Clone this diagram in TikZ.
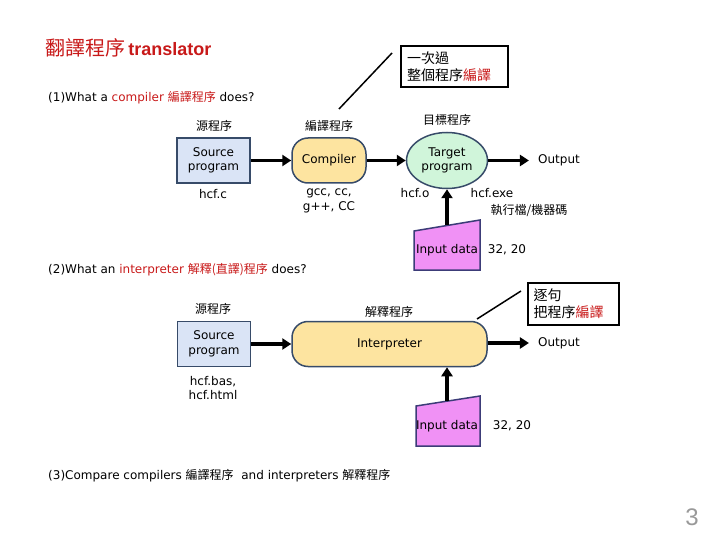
\documentclass[tikz,border=0pt]{standalone}
\usepackage{fontspec}
\setmainfont{DejaVu Sans}
\newfontfamily\cjk{Noto Sans CJK TC}
\newfontfamily\arialf{Liberation Sans}
\usetikzlibrary{arrows.meta,shapes.geometric}
\definecolor{tred}{RGB}{200,25,25}
\definecolor{bord}{RGB}{55,75,105}
\definecolor{srcblue}{RGB}{218,228,246}
\definecolor{compy}{RGB}{253,228,160}
\definecolor{tgtg}{RGB}{208,245,218}
\definecolor{inpink}{RGB}{240,145,245}
\definecolor{inbord}{RGB}{60,60,120}
\begin{document}
\begin{tikzpicture}[x=1pt,y=-1pt,
  txt/.style={font=\fontsize{12}{14.5}\selectfont, inner sep=0pt, align=center},
  cj/.style={font=\fontsize{12}{14}\selectfont\cjk, inner sep=0pt},
  srcbox/.style={draw=bord, line width=1.5pt, fill=srcblue, minimum width=73pt, minimum height=45pt, align=center, inner sep=0pt, font=\fontsize{12}{14.5}\selectfont},
  procbox/.style={draw=bord, line width=1.5pt, fill=compy, rounded corners=16pt, minimum height=45pt, inner sep=0pt, font=\fontsize{12}{14.5}\selectfont},
  outlbl/.style={font=\fontsize{12}{14.5}\selectfont, inner xsep=9pt, inner ysep=0pt},
  arr/.style={line width=3.5pt, -{Triangle[length=9pt,width=11pt]}},
  callout/.style={draw, line width=1.5pt, align=left, inner sep=0pt, font=\fontsize{14}{17}\selectfont\cjk},
  inshape/.style={draw=inbord, line width=1.5pt, fill=inpink},
  calline/.style={line width=1.5pt}
]
\useasboundingbox (0,0) rectangle (720,540);

% title
\node[anchor=west, inner sep=0pt, text=tred] (title) at (45,48)
  {{\fontsize{20}{22}\selectfont\cjk 翻譯程序} {\fontsize{18}{22}\selectfont\arialf\bfseries translator}};

% ---------- section 1 ----------
\node[anchor=west, txt] (h1) at (48,98)
  {(1)What a {\color{tred}compiler {\cjk 編譯程序}} does?};

\node[callout, minimum width=107pt, minimum height=41pt, text width=95pt] (call1) at (454.5,66.5)
  {一次過\\整個程序{\color{tred}編譯}};
\coordinate (c1a) at (392,53);
\coordinate (c1b) at (339,109);
\draw[calline] (c1a) -- (c1b);

\node[cj] (l1a) at (214,126) {源程序};
\node[cj] (l1b) at (329,126) {編譯程序};
\node[cj] (l1c) at (447,120) {目標程序};

\node[srcbox] (src1) at (213.5,160.5) {Source\\program};
\node[procbox, minimum width=74pt] (comp) at (329,160.5) {Compiler};
\node[ellipse, draw=bord, line width=1.5pt, fill=tgtg, minimum width=81pt, minimum height=56pt, inner sep=0pt, align=center, font=\fontsize{12}{14.5}\selectfont] (tgt) at (447,160.5) {Target\\program};
\node[outlbl] (out1) at (559,160.5) {Output};

\draw[arr] (src1.east) -- (comp.west);
\draw[arr] (comp.east) -- (tgt.west);
\draw[arr] (tgt.east) -- (out1.west);

\node[txt] (f1) at (213,194) {hcf.c};
\node[txt] (f2) at (329,201) {gcc, cc,\\g++, CC};
\node[txt] (f3) at (415,193) {hcf.o};
\node[txt] (f4) at (492,193) {hcf.exe};
\node[cj] (f5) at (529,211) {執行檔/機器碼};

\coordinate (i1a) at (414,231);
\coordinate (i1b) at (480,220);
\coordinate (i1c) at (480,270);
\coordinate (i1d) at (414,270);
\draw[inshape] (i1a) -- (i1b) -- (i1c) -- (i1d) -- cycle;
\node[txt] (in1) at (447,250) {Input data};
\node[txt] (n1) at (507,250) {32, 20};
\coordinate (in1top) at (447,225.5);
\draw[arr] (in1top) -- (tgt.south);

% ---------- section 2 ----------
\node[anchor=west, txt] (h2) at (48,270)
  {(2)What an {\color{tred}interpreter {\cjk 解釋(直譯)程序}} does?};

\node[cj] (l2a) at (213,309) {源程序};
\node[cj] (l2b) at (389,312) {解釋程序};

\node[srcbox] (src2) at (214,344) {Source\\program};
\node[procbox, minimum width=195pt] (interp) at (389.5,344) {Interpreter};
\node[outlbl] (out2) at (559,343) {Output};
\draw[arr] (src2.east) -- (interp.west);
\draw[arr] (interp.east |- out2) -- (out2.west);

\node[txt] (f6) at (213,388) {hcf.bas,\\hcf.html};

\node[callout, minimum width=91pt, minimum height=42pt, text width=80pt] (call2) at (573.5,304)
  {逐句\\把程序{\color{tred}編譯}};
\coordinate (c2a) at (477,319);
\coordinate (c2b) at (521,291);
\draw[calline] (c2a) -- (c2b);

\coordinate (i2a) at (416,406);
\coordinate (i2b) at (480,396);
\coordinate (i2c) at (480,446);
\coordinate (i2d) at (416,446);
\draw[inshape] (i2a) -- (i2b) -- (i2c) -- (i2d) -- cycle;
\node[txt] (in2) at (447,426) {Input data};
\node[txt] (n2) at (512,426) {32, 20};
\coordinate (in2top) at (447,401);
\draw[arr] (in2top) -- (interp.south -| in2top);

% ---------- section 3 ----------
\node[anchor=west, txt] (h3) at (48,476)
  {(3)Compare compilers {\cjk 編譯程序}\ \ and interpreters {\cjk 解釋程序}};

\node[inner sep=0pt, text=gray!80, font=\fontsize{24}{26}\selectfont\arialf] (pg) at (692,517) {3};
\end{tikzpicture}
\end{document}
